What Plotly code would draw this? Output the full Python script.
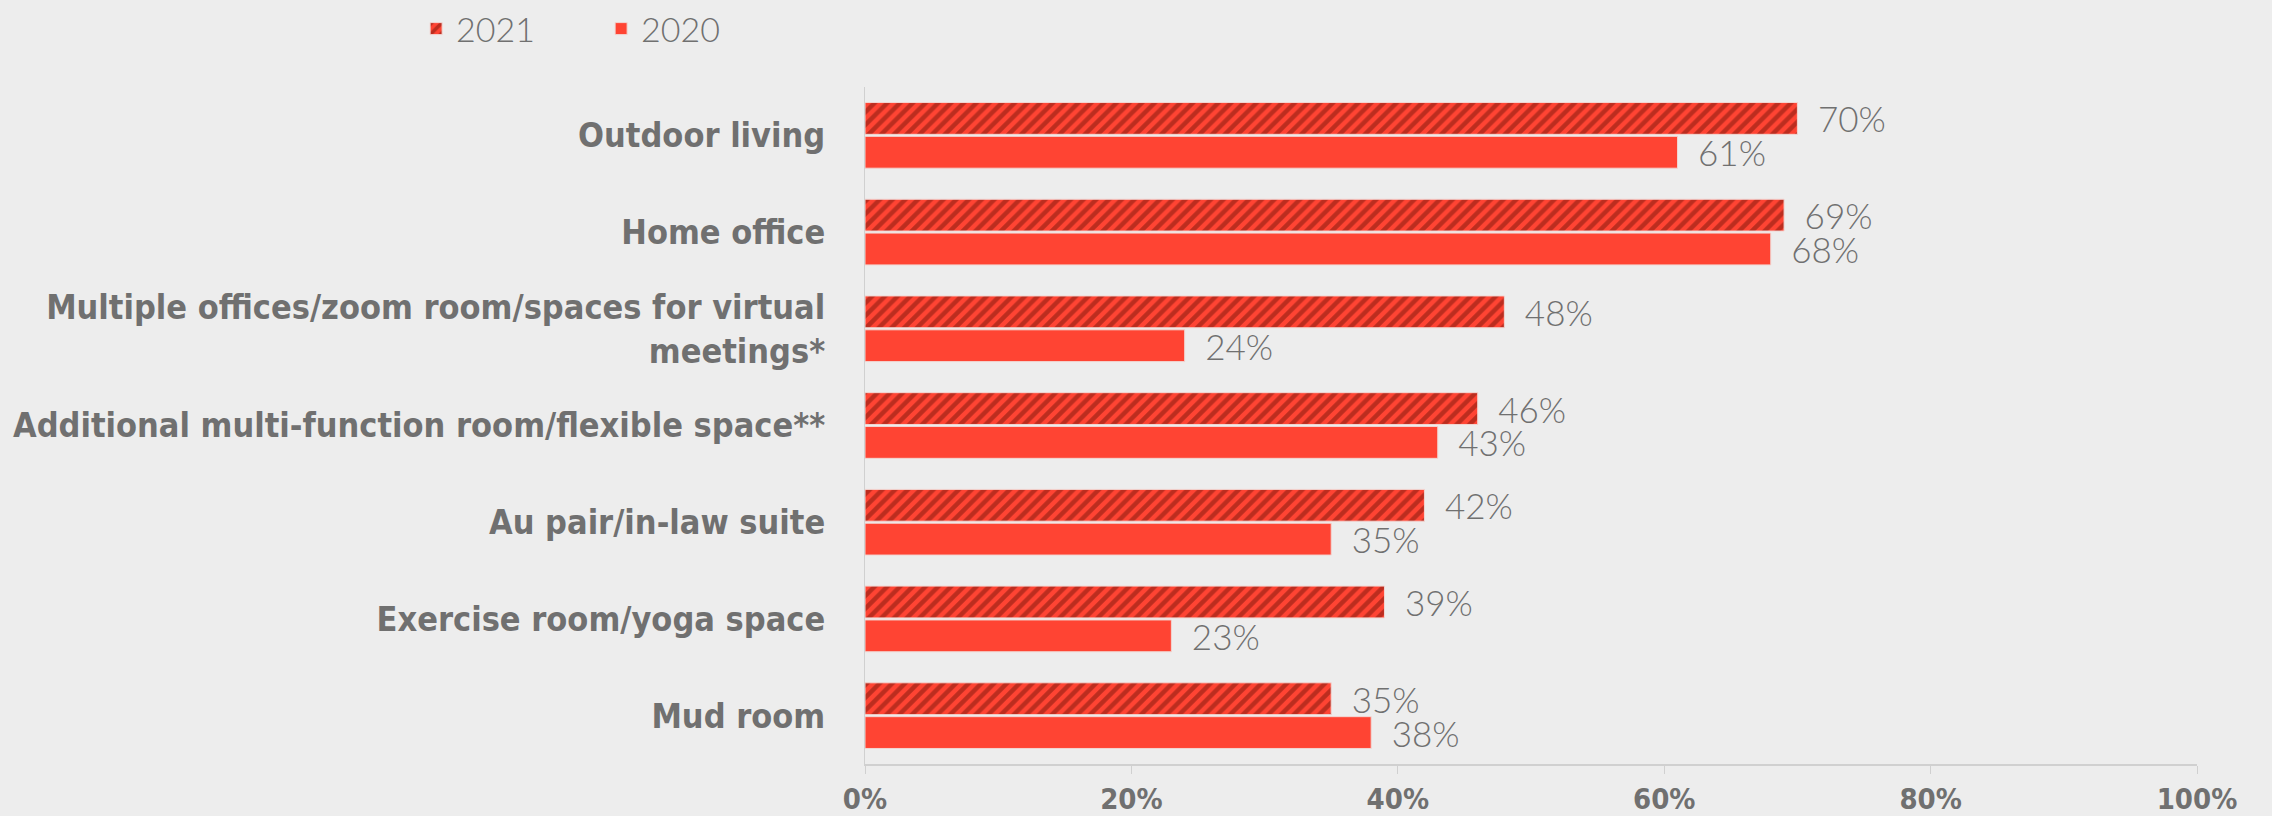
import plotly.graph_objects as go

categories = [
    "Outdoor living",
    "Home office",
    "Multiple offices/zoom room/spaces for virtual<br>meetings*",
    "Additional multi-function room/flexible space**",
    "Au pair/in-law suite",
    "Exercise room/yoga space",
    "Mud room",
]
values_2021 = [70, 69, 48, 46, 42, 39, 35]
values_2020 = [61, 68, 24, 43, 35, 23, 38]
x_ticks = [0, 20, 40, 60, 80, 100]
x_tick_labels = ["0%", "20%", "40%", "60%", "80%", "100%"]

RED = "#FF4433"
DARK = "#7A150C"
GREY = "#707070"
BG = "#EDEDED"

label_font = dict(family="Lato, sans-serif", size=35, color=GREY, weight=300)
bold_font = "DejaVu Sans Condensed, Liberation Sans Narrow, sans-serif"


def pct_labels(values):
    return ["\u2002" + f"{v}%" for v in values]


fig = go.Figure()
fig.add_trace(go.Bar(
    name="2021", y=categories, x=values_2021, orientation="h",
    marker=dict(color=RED, line=dict(color="#F2D6D2", width=1),
                pattern=dict(shape="/", fgcolor=DARK, bgcolor=RED, size=9, solidity=0.5)),
    text=pct_labels(values_2021), textposition="outside",
    textfont=label_font, constraintext="none", cliponaxis=False,
))
fig.add_trace(go.Bar(
    name="2020", y=categories, x=values_2020, orientation="h",
    marker=dict(color=RED, line=dict(color="#F2D6D2", width=1)),
    text=pct_labels(values_2020), textposition="outside",
    textfont=label_font, constraintext="none", cliponaxis=False,
))

fig.update_layout(
    width=2272, height=816,
    margin=dict(l=865, r=75, t=87, b=52),
    paper_bgcolor=BG, plot_bgcolor=BG,
    barmode="group", bargap=0.3, bargroupgap=0.06,
    legend=dict(orientation="h", x=-0.337, y=1.0, xanchor="left", yanchor="top",
                yref="container",
                font=dict(family="Lato, sans-serif", size=34, color=GREY, weight=300),
                entrywidth=140, entrywidthmode="pixels", bgcolor="rgba(0,0,0,0)",
                traceorder="normal"),
    xaxis=dict(range=[0, 100], tickvals=x_ticks, ticktext=x_tick_labels,
               showgrid=False, zeroline=False, showline=True, linecolor="#D0D0D0", linewidth=2,
               ticks="outside", ticklen=8, tickcolor="#D0D0D0", tickwidth=1,
               ticklabelstandoff=0, automargin=False,
               tickfont=dict(family=bold_font, size=29, color=GREY, weight="bold"),
               fixedrange=True),
    yaxis=dict(autorange="reversed", showgrid=False, zeroline=False,
               showline=True, linecolor="#D0D0D0", linewidth=1, ticks="",
               ticklabelstandoff=32, automargin=False,
               tickfont=dict(family=bold_font, size=34, color=GREY, weight="bold")),
)

fig.write_html("out.html")
